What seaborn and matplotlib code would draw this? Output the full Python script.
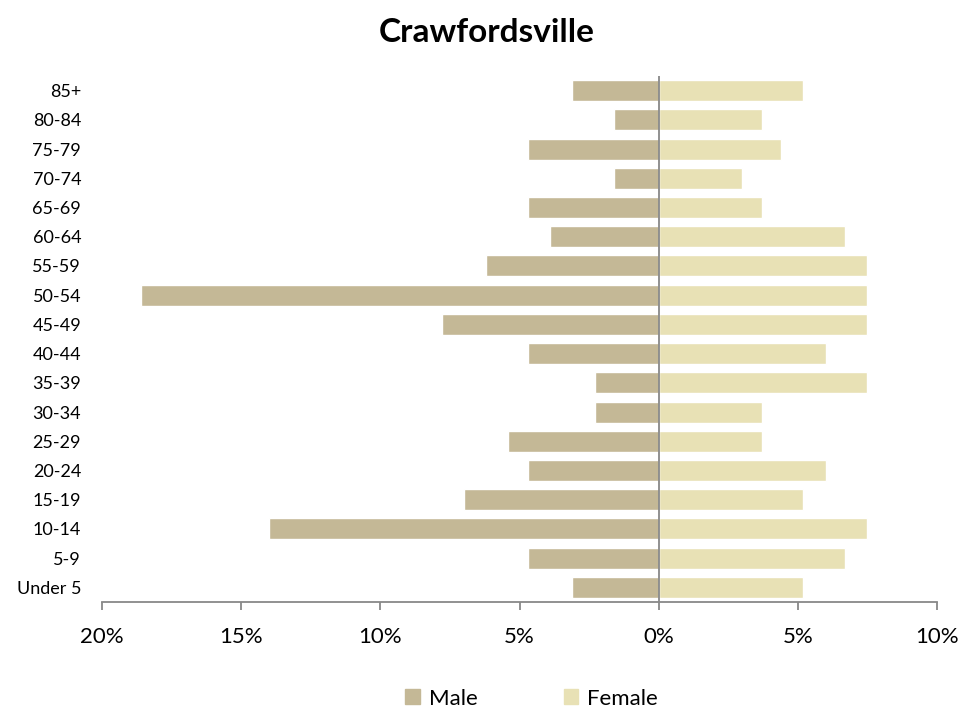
import pandas as pd
import matplotlib.pyplot as plt
import seaborn as sns
from matplotlib.ticker import FuncFormatter
from matplotlib.patches import Patch

# age groups, top to bottom as shown
age_groups = ['85+', '80-84', '75-79', '70-74', '65-69', '60-64', '55-59', '50-54',
              '45-49', '40-44', '35-39', '30-34', '25-29', '20-24', '15-19', '10-14',
              '5-9', 'Under 5']
male_pct = [3.1, 1.6, 4.7, 1.6, 4.7, 3.9, 6.2, 18.6, 7.8, 4.7, 2.3, 2.3, 5.4, 4.7, 7.0, 14.0, 4.7, 3.1]
female_pct = [5.2, 3.7, 4.4, 3.0, 3.7, 6.7, 7.5, 7.5, 7.5, 6.0, 7.5, 3.7, 3.7, 6.0, 5.2, 7.5, 6.7, 5.2]

male_color = '#C4B896'
female_color = '#E8E1B5'

df = pd.DataFrame({
    'age': age_groups * 2,
    'pct': [-v for v in male_pct] + female_pct,
    'sex': ['Male'] * len(age_groups) + ['Female'] * len(age_groups),
})

sns.set_style('white')
plt.rcParams['font.family'] = ['Lato', 'DejaVu Sans']
plt.rcParams['text.color'] = 'black'
plt.rcParams['xtick.color'] = 'black'
plt.rcParams['ytick.color'] = 'black'

fig = plt.figure(figsize=(9.79, 7.13), dpi=100)
ax = fig.add_axes([102 / 979, 1 - 602 / 713, 835 / 979, 526 / 713])

sns.barplot(data=df, x='pct', y='age', hue='sex', order=age_groups, dodge=False,
            palette={'Male': male_color, 'Female': female_color},
            width=0.72, orient='h', ax=ax, legend=False, saturation=1)

ax.axvline(0, color='#888888', linewidth=1.3, zorder=3)
ax.set_xlim(-20, 10)
ax.set_ylim(len(age_groups) - 0.5, -0.5)
ax.set_xticks([-20, -15, -10, -5, 0, 5, 10])
ax.xaxis.set_major_formatter(FuncFormatter(lambda v, p: f'{abs(v):.0f}%'))
ax.tick_params(axis='x', direction='out', length=6, width=1.3, color='#888888',
               labelsize=16, labelcolor='black', pad=12, bottom=True)
ax.tick_params(axis='y', length=0, labelsize=13, labelcolor='black', pad=15)
ax.set_xlabel('')
ax.set_ylabel('')
for s in ['top', 'right', 'left']:
    ax.spines[s].set_visible(False)
ax.spines['bottom'].set_color('#888888')
ax.spines['bottom'].set_linewidth(1.3)

fig.suptitle('Crawfordsville', x=0.497, y=0.975, fontsize=24, fontweight='bold')

handles = [Patch(color=male_color, label='Male'), Patch(color=female_color, label='Female')]
fig.legend(handles=handles, loc='lower center', bbox_to_anchor=(0.543, -0.022), ncol=2,
           frameon=False, fontsize=16, handlelength=0.65, handleheight=0.65,
           columnspacing=3.9, handletextpad=0.4)

fig.savefig('out.png', dpi=100)
